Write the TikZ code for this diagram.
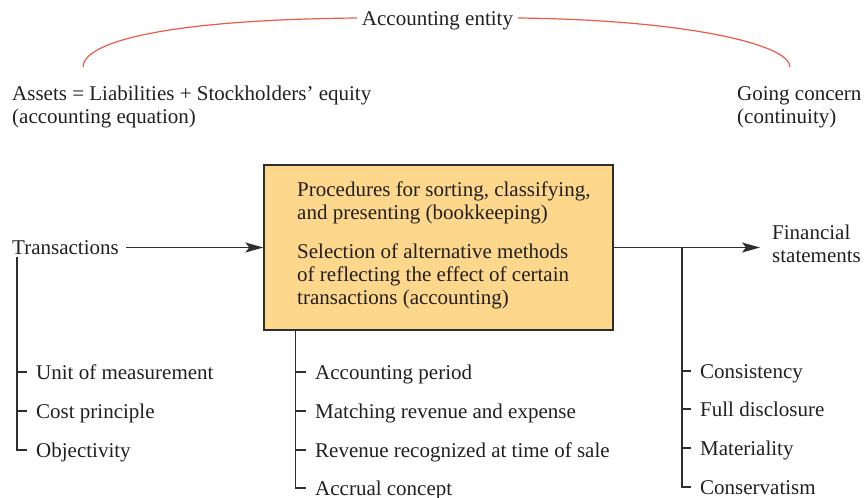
\documentclass[tikz,border=0pt]{standalone}
\usepackage{fontspec}
\setmainfont{Liberation Serif}
\usetikzlibrary{arrows.meta}
\definecolor{ink}{HTML}{231F20}
\definecolor{lineink}{HTML}{2E2E2E}
\definecolor{boxfill}{HTML}{FDD88C}
\definecolor{arcred}{HTML}{EC5B47}
\begin{document}
\begin{tikzpicture}[x=1pt,y=-1pt,
  every node/.style={font=\fontsize{21}{23}\selectfont, inner sep=0pt, text=ink},
  item/.style={anchor=west, text height=16pt, text depth=2pt},
  multi/.style={anchor=north west, align=left},
  conn/.style={draw=lineink, line width=1.3pt},
  arr/.style={conn, -{Stealth[length=18pt,width=10pt,inset=4pt]}},
  redarc/.style={draw=arcred, line width=1.2pt},
  mainbox/.style={draw=lineink, line width=1.4pt, fill=boxfill, minimum width=349pt, minimum height=165pt}
]
\useasboundingbox (0,0) rectangle (865,498);

% top
\node[item, anchor=center, inner xsep=5pt] (entity) at (437.5,18) {Accounting entity};
\coordinate (arcL) at (83,67);
\coordinate (arcR) at (790,67);
\draw[redarc] (entity.west) .. controls (150,20) and (83,45) .. (arcL);
\draw[redarc] (entity.east) .. controls (690,20) and (790,45) .. (arcR);

\node[multi] (assets) at (12,86) {Assets = Liabilities + Stockholders’ equity\\(accounting equation)};
\node[multi] (going) at (737,86) {Going concern\\(continuity)};

% box
\node[mainbox] (box) at (438.5,247.5) {};
\node[multi] (boxtxt) at (297,182) {Procedures for sorting, classifying,\\and presenting (bookkeeping)\\[16pt]Selection of alternative methods\\of reflecting the effect of certain\\transactions (accounting)};

\node[item] (trans) at (12,247.5) {Transactions};
\node[multi] (fin) at (772,225) {Financial\\statements};

\draw[arr] ([xshift=7pt]trans.east) -- (box.west |- trans.east);
\draw[arr] (box.east) -- ([xshift=-12pt]fin.west |- box.east);

% left list
\node[item] (unit) at (36,372) {Unit of measurement};
\node[item] (cost) at (36,411) {Cost principle};
\node[item] (obj)  at (36,450) {Objectivity};
\coordinate (lbar) at (17,257);
\draw[conn] (lbar) |- ([xshift=-9pt]obj.west);
\draw[conn] ([xshift=-9pt]unit.west) -- (unit.west -| lbar);
\draw[conn] ([xshift=-9pt]cost.west) -- (cost.west -| lbar);

% middle list
\node[item] (period) at (315,372) {Accounting period};
\node[item] (match)  at (315,411) {Matching revenue and expense};
\node[item] (rev)    at (315,450) {Revenue recognized at time of sale};
\node[item] (accr)   at (315,488) {Accrual concept};
\coordinate (mbar) at ([xshift=32pt]box.south west);
\draw[conn] (mbar) |- ([xshift=-9pt]accr.west);
\draw[conn] ([xshift=-9pt]period.west) -- (period.west -| mbar);
\draw[conn] ([xshift=-9pt]match.west) -- (match.west -| mbar);
\draw[conn] ([xshift=-9pt]rev.west) -- (rev.west -| mbar);

% right list
\node[item] (consis) at (700,371) {Consistency};
\node[item] (full)   at (700,409) {Full disclosure};
\node[item] (mat)    at (700,448) {Materiality};
\node[item] (cons)   at (700,487) {Conservatism};
\coordinate (rbar) at (682,0);
\draw[conn] (box.east -| rbar) |- ([xshift=-9pt]cons.west);
\draw[conn] ([xshift=-9pt]consis.west) -- (consis.west -| rbar);
\draw[conn] ([xshift=-9pt]full.west) -- (full.west -| rbar);
\draw[conn] ([xshift=-9pt]mat.west) -- (mat.west -| rbar);
\end{tikzpicture}
\end{document}
